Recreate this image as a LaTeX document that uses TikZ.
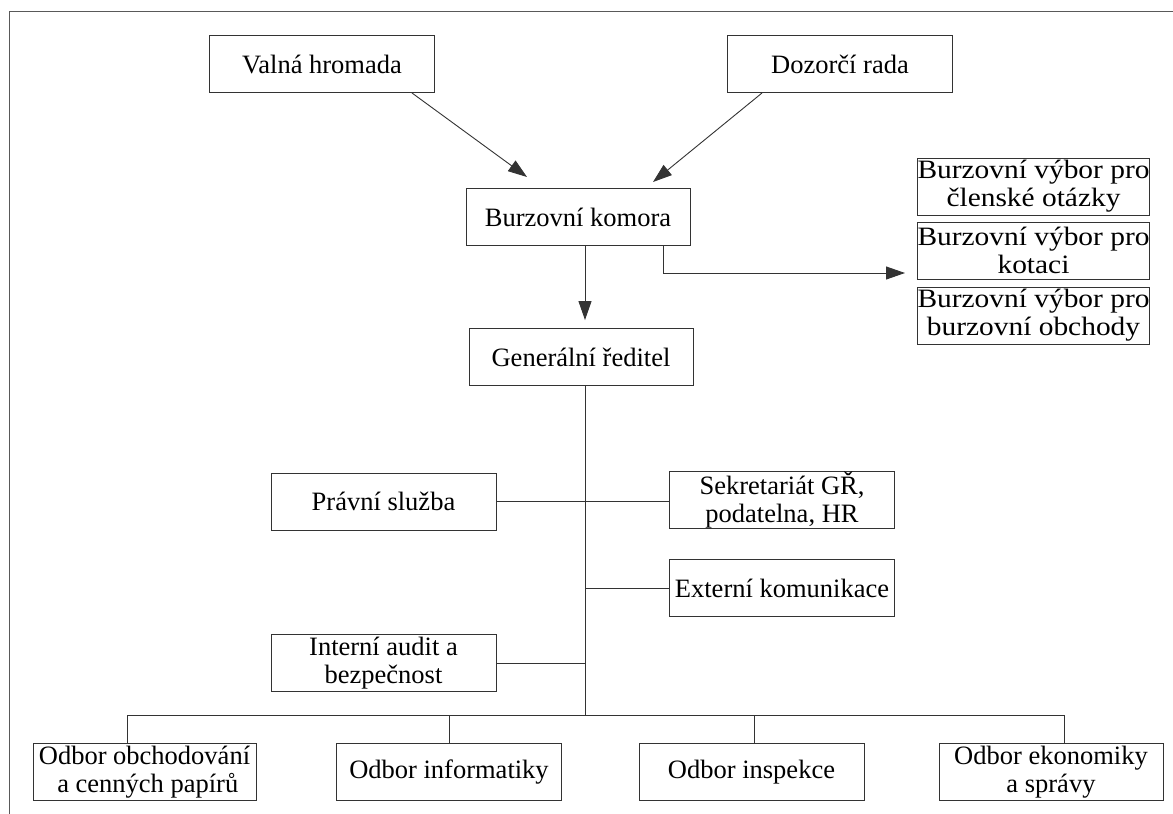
\documentclass[tikz,border=0pt]{standalone}
\usepackage{fontspec}
\setmainfont{Liberation Serif}
\newfontfamily\widefont[FakeStretch=1.11]{Liberation Serif}
\usetikzlibrary{arrows.meta}
\begin{document}
\begin{tikzpicture}[x=1pt,y=-1pt,
  line width=0.9pt,
  unit/.style={draw=black!80, fill=white, inner sep=0pt, align=center,
    minimum width=225pt, minimum height=57pt,
    font=\fontsize{26.5}{28}\selectfont},
  wideunit/.style={unit, font=\widefont\fontsize{26.5}{28}\selectfont},
  link/.style={draw=black!80},
  tip/.style={draw=black!80, -{Triangle[length=19pt,width=13pt]}}]
\useasboundingbox (0,0) rectangle (1173,814);

% frame
\draw[black!65, line width=1pt] (9,814) -- (9,11) -- (1173,11);

% governing bodies
\node[unit] (valna)  at (322,64)    {Valná hromada};
\node[unit] (dozor)  at (840,64)    {Dozorčí rada};
\node[unit, minimum width=224pt] (komora) at (578,217) {Burzovní komora};
\node[unit, minimum width=224pt] (gr)     at (581,357) {Generální ředitel};

% exchange committees
\node[wideunit] (vyb1) at (1033.5,186.5) {Burzovní výbor pro\\členské otázky};
\node[wideunit] (vyb2) at (1033.5,250.5) {Burzovní výbor pro\\kotaci};
\node[wideunit] (vyb3) at (1033.5,315.5) {Burzovní výbor pro\\burzovní obchody};

% staff units
\node[unit] (pravni) at (383.5,501.5) {Právní služba};
\node[unit] (sekr)   at (782,500)     {Sekretariát GŘ,\\podatelna, HR};
\node[unit] (extkom) at (782,588)     {Externí komunikace};
\node[unit] (audit)  at (383.5,663)   {Interní audit a\\bezpečnost};

% departments
\node[unit, minimum width=223pt] (obch) at (144.5,772) {Odbor obchodování\\\ a cenných papírů};
\node[unit] (info)  at (449,772)    {Odbor informatiky};
\node[unit] (insp)  at (751.5,772)  {Odbor inspekce};
\node[unit, minimum width=224pt] (ekon) at (1051,772) {Odbor ekonomiky\\a správy};

% helper points
\coordinate (trunk) at (585,715);
\coordinate (vA) at (412,93);
\coordinate (vB) at (527,177);
\coordinate (dA) at (762,93);
\coordinate (dB) at (653,182);
\coordinate (elbow) at (663,273);
\coordinate (vybtip) at (905,273);
\coordinate (d1) at (127,715);
\coordinate (d2) at (449,715);
\coordinate (d3) at (754,715);
\coordinate (d4) at (1064,715);

% arrows into the chamber and to the committees
\draw[tip] (vA) -- (vB);
\draw[tip] (dA) -- (dB);
\draw[tip, shorten >=8pt] (komora.south -| trunk) -- (gr.north -| trunk);
\draw[tip] (komora.south -| elbow) -- (elbow) -- (vybtip);

% main trunk and branches
\draw[link] (gr.south -| trunk) -- (trunk);
\draw[link] (pravni.east) -- (sekr.west |- pravni.east);
\draw[link] (extkom.west) -- (extkom.west -| trunk);
\draw[link] (audit.east) -- (audit.east -| trunk);

% departments bar
\draw[link] (d1) -- (d4);
\draw[link] (d1) -- (d1 |- obch.north);
\draw[link] (d2) -- (d2 |- info.north);
\draw[link] (d3) -- (d3 |- insp.north);
\draw[link] (d4) -- (d4 |- ekon.north);
\end{tikzpicture}
\end{document}
